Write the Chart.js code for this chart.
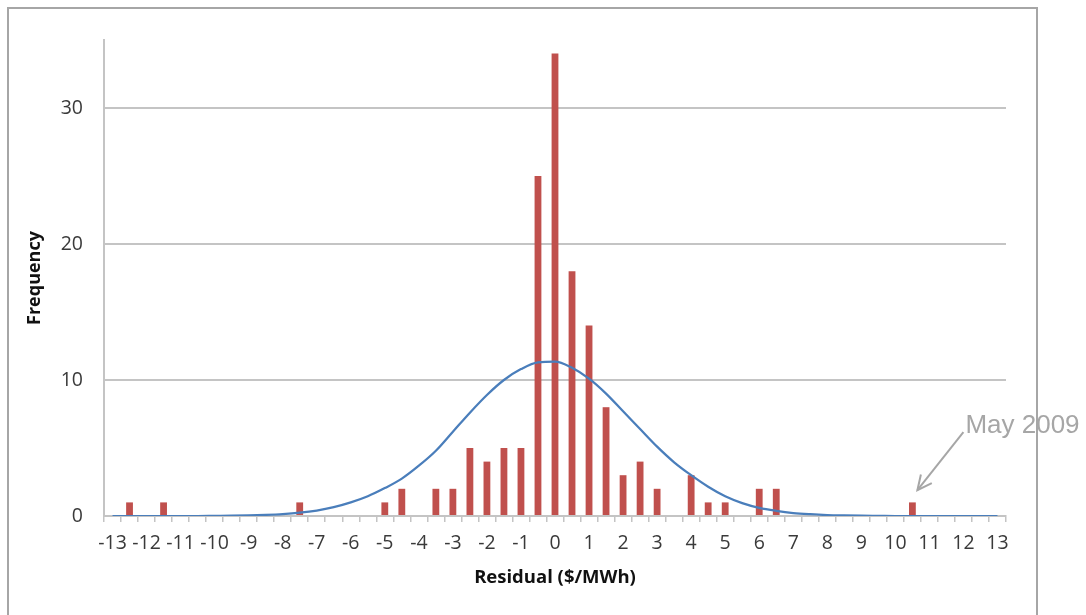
<!DOCTYPE html>
<html>
<head>
<meta charset="utf-8">
<script src="https://cdn.jsdelivr.net/npm/chart.js@4/dist/chart.umd.min.js"></script>
<style>
  body { margin: 0; background: #fff; }
</style>
</head>
<body>
<canvas id="residualChart" width="1086" height="615"></canvas>
<script>
// residual bins in $/MWh, one every 0.5
const bins = [
  '-13', '-12.5', '-12', '-11.5', '-11', '-10.5', '-10', '-9.5', '-9', '-8.5',
  '-8', '-7.5', '-7', '-6.5', '-6', '-5.5', '-5', '-4.5', '-4', '-3.5',
  '-3', '-2.5', '-2', '-1.5', '-1', '-0.5', '0', '0.5', '1', '1.5',
  '2', '2.5', '3', '3.5', '4', '4.5', '5', '5.5', '6', '6.5',
  '7', '7.5', '8', '8.5', '9', '9.5', '10', '10.5', '11', '11.5',
  '12', '12.5', '13'
];

const frequency = [
  0, 1, 0, 1, 0, 0, 0, 0, 0, 0,
  0, 1, 0, 0, 0, 0, 1, 2, 0, 2,
  2, 5, 4, 5, 5, 25, 34, 18, 14, 8,
  3, 4, 2, 0, 3, 1, 1, 0, 2, 2,
  0, 0, 0, 0, 0, 0, 0, 1, 0, 0,
  0, 0, 0
];

// fitted normal curve
const normalFit = [
  0, 0, 0, 0, 0, 0, 0.01, 0.02, 0.04, 0.08,
  0.14, 0.24, 0.4, 0.65, 1.0, 1.45, 2.05, 2.75, 3.7, 4.8,
  6.2, 7.6, 8.9, 10.0, 10.8, 11.3, 11.35, 10.9, 10.1, 9.0,
  7.7, 6.4, 5.1, 3.95, 3.0, 2.15, 1.45, 0.95, 0.6, 0.38,
  0.22, 0.13, 0.07, 0.04, 0.02, 0.01, 0, 0, 0, 0,
  0, 0, 0
];

const yTicks = [0, 10, 20, 30];
const noteBin = '10.5';
const noteText = 'May 2009';

const gridGrey = '#c4c4c4';
const textGrey = '#3a3a3a';
const noteGrey = '#a6a6a6';

const frameAndNote = {
  id: 'frameAndNote',
  afterDraw(chart) {
    const ctx = chart.ctx;
    const x = chart.scales.x;
    const y = chart.scales.y;
    ctx.save();

    // outer chart frame
    ctx.strokeStyle = noteGrey;
    ctx.lineWidth = 2;
    ctx.strokeRect(8, 8, 1029, 660);

    // callout arrow pointing at the outlier bar
    const tipX = x.getPixelForValue(bins.indexOf(noteBin)) + 5;
    const tipY = y.getPixelForValue(1.9);
    const startX = tipX + 46;
    const startY = tipY - 58;
    ctx.strokeStyle = noteGrey;
    ctx.lineWidth = 2;
    ctx.beginPath();
    ctx.moveTo(startX, startY);
    ctx.lineTo(tipX, tipY);
    ctx.stroke();

    const ang = Math.atan2(startY - tipY, startX - tipX);
    const arm = 16;
    ctx.beginPath();
    ctx.moveTo(tipX + arm * Math.cos(ang - 0.45), tipY + arm * Math.sin(ang - 0.45));
    ctx.lineTo(tipX, tipY);
    ctx.lineTo(tipX + arm * Math.cos(ang + 0.45), tipY + arm * Math.sin(ang + 0.45));
    ctx.stroke();

    ctx.fillStyle = noteGrey;
    ctx.font = '26px "Liberation Sans", Arial, sans-serif';
    ctx.textAlign = 'left';
    ctx.textBaseline = 'alphabetic';
    ctx.fillText(noteText, startX + 2, startY + 1);
    ctx.restore();
  }
};

new Chart(document.querySelector('#residualChart'), {
  type: 'bar',
  data: {
    labels: bins,
    datasets: [
      {
        type: 'line',
        label: 'Normal',
        data: normalFit,
        borderColor: '#4a7ebb',
        borderWidth: 2.25,
        pointRadius: 0,
        cubicInterpolationMode: 'monotone',
        fill: false,
        order: 0
      },
      {
        label: 'Frequency',
        data: frequency,
        backgroundColor: '#c0504d',
        barPercentage: 0.4,
        categoryPercentage: 1,
        order: 1
      }
    ]
  },
  options: {
    responsive: false,
    animation: false,
    layout: { padding: { left: 0, top: 40, right: 80, bottom: 0 } },
    plugins: {
      legend: { display: false },
      tooltip: { enabled: false }
    },
    scales: {
      x: {
        afterFit(scale) { scale.height = 99; },
        grid: {
          offset: true,
          drawOnChartArea: false,
          drawTicks: true,
          tickLength: 6,
          color: gridGrey,
          lineWidth: 1.5
        },
        border: { color: gridGrey, width: 2 },
        ticks: {
          autoSkip: false,
          maxRotation: 0,
          padding: 10,
          color: textGrey,
          font: { family: '"Open Sans", sans-serif', size: 19.5 },
          callback(val, i) {
            const lbl = bins[i];
            return Number.isInteger(Number(lbl)) ? lbl : '';
          }
        },
        title: {
          display: true,
          text: 'Residual ($/MWh)',
          color: '#111',
          font: { family: '"Open Sans", sans-serif', size: 18.5, weight: 'bold' },
          padding: { top: 0, bottom: 26 }
        }
      },
      y: {
        min: 0,
        max: 35,
        afterFit(scale) { scale.width = 104; },
        afterBuildTicks(scale) {
          scale.ticks = yTicks.map(v => ({ value: v }));
        },
        grid: {
          drawTicks: false,
          color: gridGrey,
          lineWidth: 2
        },
        border: { color: gridGrey, width: 2 },
        ticks: {
          padding: 21,
          color: textGrey,
          font: { family: '"Open Sans", sans-serif', size: 19.5 }
        },
        title: {
          display: true,
          text: 'Frequency',
          color: '#111',
          font: { family: '"Open Sans", sans-serif', size: 18, weight: 'bold' },
          padding: { top: 24, bottom: 0 }
        }
      }
    }
  },
  plugins: [frameAndNote]
});
</script>
</body>
</html>
